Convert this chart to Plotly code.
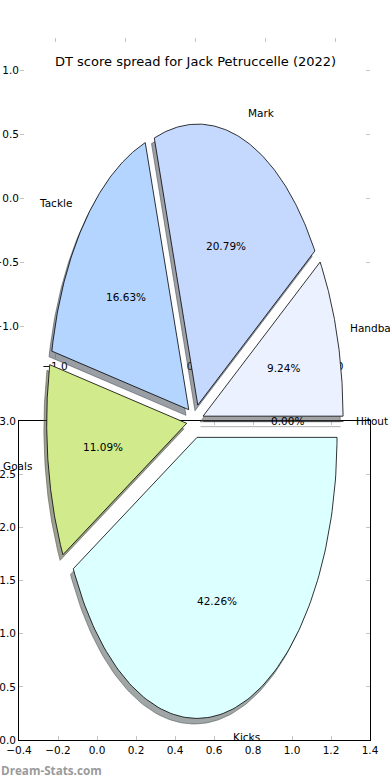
import numpy as np
import plotly.graph_objects as go

# ---------------- data ----------------
labels = ["Hitout", "Handball", "Mark", "Tackle", "Goals", "Kicks"]
values = [0.00, 9.24, 20.79, 16.63, 11.09, 42.26]
colors = ["#FFFFFF", "#EBF1FF", "#C5D9FF", "#B4D5FF", "#D0EA8C", "#DCFFFF"]

title_text = "DT score spread for Jack Petruccelle (2022)"
watermark = "Dream-Stats.com"

upper_ticks = [-1.0, -0.5, 0.0, 0.5, 1.0]
upper_ticktext = ["\u22121.0", "\u22120.5", "0.0", "0.5", "1.0"]
lower_xticks = [-0.4, -0.2, 0.0, 0.2, 0.4, 0.6, 0.8, 1.0, 1.2, 1.4]
lower_xticktext = ["\u22120.4", "\u22120.2", "0.0", "0.2", "0.4", "0.6", "0.8", "1.0", "1.2", "1.4"]
lower_yticks = [0.0, 0.5, 1.0, 1.5, 2.0, 2.5, 3.0]
lower_yticktext = ["0.0", "0.5", "1.0", "1.5", "2.0", "2.5", "3.0"]

# ---------------- style constants ----------------
EXPLODE = 0.06
LABEL_DIST = 1.1
PCT_DIST = 0.6
SHADOW_OFF = 0.02
FONT = "DejaVu Sans"
W, H = 390, 780

fig = go.Figure()

# empty traces so that the two background axes are drawn
fig.add_trace(go.Scatter(x=[None], y=[None], xaxis="x", yaxis="y", mode="markers",
                         hoverinfo="skip", showlegend=False))
fig.add_trace(go.Scatter(x=[None], y=[None], xaxis="x2", yaxis="y2", mode="markers",
                         hoverinfo="skip", showlegend=False))

# ---------------- pie wedges (drawn in x3/y3) ----------------
vals = np.array(values, dtype=float) / 100.0
tot = vals.sum()
if tot > 1:
    vals = vals / tot

def hex_rgb(h):
    h = h.lstrip("#")
    return tuple(int(h[i:i + 2], 16) for i in (0, 2, 4))

annotations = []
theta1 = 0.0
for lab, v, raw, col in zip(labels, vals, values, colors):
    theta2 = theta1 + 360.0 * v
    thetam = np.deg2rad((theta1 + theta2) / 2.0)
    dx = EXPLODE * np.cos(thetam)
    dy = EXPLODE * np.sin(thetam)
    arc = np.deg2rad(np.linspace(theta1, theta2, 120))
    xs = np.concatenate([[dx], dx + np.cos(arc), [dx]])
    ys = np.concatenate([[dy], dy + np.sin(arc), [dy]])
    r, g, b = hex_rgb(col)
    sh = "rgba(%d,%d,%d,0.5)" % (0.3 * r, 0.3 * g, 0.3 * b)
    sh_line = sh if v > 0 else "rgba(170,170,170,0.6)"
    # shadow
    fig.add_trace(go.Scatter(x=xs - SHADOW_OFF, y=ys - SHADOW_OFF, mode="lines",
                             fill="toself", fillcolor=sh,
                             line=dict(color=sh_line, width=1),
                             xaxis="x3", yaxis="y3", hoverinfo="skip", showlegend=False))
    # wedge
    fig.add_trace(go.Scatter(x=xs, y=ys, mode="lines", fill="toself", fillcolor=col,
                             line=dict(color="black", width=0.8),
                             xaxis="x3", yaxis="y3", hoverinfo="skip", showlegend=False))
    xt = dx + LABEL_DIST * np.cos(thetam)
    yt = dy + LABEL_DIST * np.sin(thetam)
    left = xt > 0
    annotations.append(dict(x=xt, y=yt, xref="x3", yref="y3", text=lab, showarrow=False,
                            xanchor="left" if left else "right", yanchor="middle",
                            xshift=-3 if left else 0,
                            font=dict(family=FONT, size=10.5, color="black")))
    xp = dx + PCT_DIST * np.cos(thetam)
    yp = dy + PCT_DIST * np.sin(thetam)
    annotations.append(dict(x=xp, y=yp, xref="x3", yref="y3", text="%.2f%%" % raw,
                            showarrow=False, xanchor="center", yanchor="middle",
                            font=dict(family=FONT, size=10.5, color="black")))
    theta1 = theta2

# title
annotations.append(dict(x=0.5, y=(H - 61) / H, xref="paper", yref="paper", text=title_text,
                        showarrow=False, xanchor="center", yanchor="middle",
                        font=dict(family=FONT, size=13, color="black")))
# watermark
annotations.append(dict(x=0.0, y=(H - 770) / H, xref="paper", yref="paper", text=watermark,
                        showarrow=False, xanchor="left", yanchor="middle", xshift=-1,
                        font=dict(family="Open Sans", size=11.7, color="#9a9a9a", weight="bold")))

tickfont = dict(family=FONT, size=10.5, color="black")
grey_tick = "#c4c4c4"

common = dict(ticks="inside", ticklen=4, tickcolor=grey_tick, showgrid=False,
              zeroline=False, tickfont=tickfont, fixedrange=True, automargin=False)

fig.update_layout(
    width=W, height=H, autosize=False,
    margin=dict(l=0, r=0, t=0, b=0, autoexpand=False),
    paper_bgcolor="white", plot_bgcolor="rgba(0,0,0,0)",
    showlegend=False,
    annotations=annotations,
    # upper (faint) axes
    xaxis=dict(domain=[20 / W, 370 / W], range=[-1.25, 1.25], anchor="y",
               tickvals=upper_ticks, ticktext=upper_ticktext, showline=False,
               mirror="ticks", **common),
    yaxis=dict(domain=[(H - 358) / H, (H - 38) / H], range=[-1.25, 1.25], anchor="x",
               tickvals=upper_ticks, ticktext=upper_ticktext, showline=False,
               mirror="ticks", **common),
    # lower framed axes
    xaxis2=dict(domain=[19 / W, 370 / W], range=[-0.4, 1.4], anchor="y2",
                tickvals=lower_xticks, ticktext=lower_xticktext, showline=True,
                linecolor="black", linewidth=1, mirror="ticks", **common),
    yaxis2=dict(domain=[(H - 740) / H, (H - 421) / H], range=[0, 3], anchor="x2",
                tickvals=lower_yticks, ticktext=lower_yticktext, showline=True,
                linecolor="black", linewidth=1, mirror="ticks", **common),
    # pie axes (hidden)
    xaxis3=dict(domain=[20 / W, 370 / W], range=[-1.25, 1.25], anchor="y3", visible=False,
                fixedrange=True, automargin=False),
    yaxis3=dict(domain=[(H - 772.25) / H, (H - 69.75) / H], range=[-1.25, 1.25], anchor="x3",
                visible=False, fixedrange=True, automargin=False),
)

fig.write_html("out.html")
